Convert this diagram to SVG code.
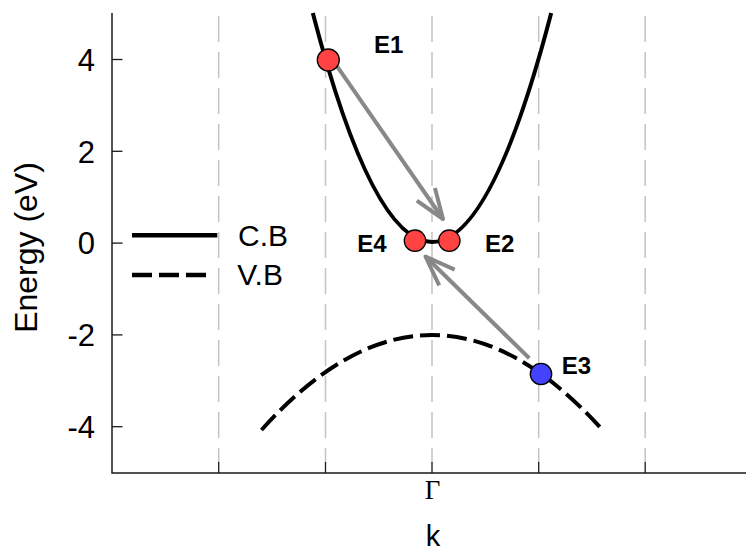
<svg xmlns="http://www.w3.org/2000/svg" width="746" height="551" viewBox="0 0 746 551">
  <defs>
    <style>
      .grid { stroke: #c4c4c4; stroke-width: 1.5; stroke-dasharray: 26 10; fill: none; }
      .axis { stroke: #1a1a1a; stroke-width: 1.5; fill: none; }
      .tick { stroke: #1a1a1a; stroke-width: 1.3; }
      .tl { font-family: "Liberation Sans", Arial, sans-serif; font-size: 31px; fill: #000; text-anchor: end; }
      .lg { font-family: "Liberation Sans", Arial, sans-serif; font-size: 30px; fill: #000; }
      .el { font-family: "Liberation Sans", Arial, sans-serif; font-size: 24px; font-weight: bold; fill: #000; }
      .cb { stroke: #000; stroke-width: 4; fill: none; }
      .vb { stroke: #000; stroke-width: 4; fill: none; stroke-dasharray: 20 7; }
      .arr { stroke: #888; stroke-width: 4; fill: none; marker-end: url(#chev); }
      .pt { stroke: #000; stroke-width: 1.3; }
      .red { fill: #ff4343; }
      .blue { fill: #4343ff; }
    </style>
    <marker id="chev" markerUnits="userSpaceOnUse" viewBox="-34 -14 38 28" refX="0" refY="0" markerWidth="38" markerHeight="28" orient="auto" overflow="visible">
      <path d="M -30 -11 L 0 0 L -30 11" stroke="#888" stroke-width="4" fill="none" stroke-linejoin="round" stroke-linecap="butt"/>
    </marker>
  </defs>
  <rect width="746" height="551" fill="#fff"/>

  <g id="grid">
    <line class="grid" x1="218.7" y1="16" x2="218.7" y2="463"/>
    <line class="grid" x1="325.5" y1="16" x2="325.5" y2="463"/>
    <line class="grid" x1="432" y1="16" x2="432" y2="463"/>
    <line class="grid" x1="538.7" y1="16" x2="538.7" y2="463"/>
    <line class="grid" x1="645.2" y1="16" x2="645.2" y2="463"/>
  </g>

  <g id="axes">
    <path class="axis" d="M112 13 V473 H746"/>
    <line class="tick" x1="112" y1="59.5" x2="122.5" y2="59.5"/>
    <line class="tick" x1="112" y1="151.3" x2="122.5" y2="151.3"/>
    <line class="tick" x1="112" y1="243.1" x2="122.5" y2="243.1"/>
    <line class="tick" x1="112" y1="334.9" x2="122.5" y2="334.9"/>
    <line class="tick" x1="112" y1="426.7" x2="122.5" y2="426.7"/>
    <line class="tick" x1="218.7" y1="473" x2="218.7" y2="462"/>
    <line class="tick" x1="325.5" y1="473" x2="325.5" y2="462"/>
    <line class="tick" x1="432" y1="473" x2="432" y2="462"/>
    <line class="tick" x1="538.7" y1="473" x2="538.7" y2="462"/>
    <line class="tick" x1="645.2" y1="473" x2="645.2" y2="462"/>
    <text class="tl" x="95" y="70.8">4</text>
    <text class="tl" x="95" y="162.6">2</text>
    <text class="tl" x="95" y="254.4">0</text>
    <text class="tl" x="95" y="346.2">-2</text>
    <text class="tl" x="95" y="438">-4</text>
    <text x="432.5" y="499" font-family="Liberation Serif, Times New Roman, serif" font-size="27" text-anchor="middle">Γ</text>
    <text x="433" y="546" font-family="Liberation Sans, Arial, sans-serif" font-size="29" text-anchor="middle">k</text>
    <text transform="translate(37,247.5) rotate(-90)" font-family="Liberation Sans, Arial, sans-serif" font-size="32" text-anchor="middle">Energy (eV)</text>
  </g>

  <g id="bands">
    <path id="vb-curve" class="vb" d="M261.5 430 Q432 240 602.5 430"/>
    <path id="cb-curve" class="cb" d="M312.8 13 Q432 471 551.2 13"/>
  </g>

  <g id="legend">
    <line x1="132" y1="235.3" x2="217.3" y2="235.3" stroke="#000" stroke-width="4.5"/>
    <line x1="132" y1="275" x2="207" y2="275" stroke="#000" stroke-width="4.5" stroke-dasharray="20 7"/>
    <text class="lg" x="238" y="246">C.B</text>
    <text class="lg" x="237.3" y="285">V.B</text>
  </g>

  <g id="connectors">
    <line class="arr" x1="337.3" y1="66.7" x2="443" y2="219"/>
    <line class="arr" x1="529.3" y1="358.3" x2="425.5" y2="256.5"/>
  </g>

  <g id="E1">
    <circle class="pt red" cx="328.3" cy="60" r="11"/>
    <text class="el" x="374" y="53.3">E1</text>
  </g>
  <g id="E2">
    <circle class="pt red" cx="449.3" cy="240.7" r="10.7"/>
    <text class="el" x="485" y="252.3">E2</text>
  </g>
  <g id="E3">
    <circle class="pt blue" cx="541" cy="374" r="10.7"/>
    <text class="el" x="561.7" y="374">E3</text>
  </g>
  <g id="E4">
    <circle class="pt red" cx="415" cy="240.7" r="10.7"/>
    <text class="el" x="357.3" y="252.3">E4</text>
  </g>
</svg>
